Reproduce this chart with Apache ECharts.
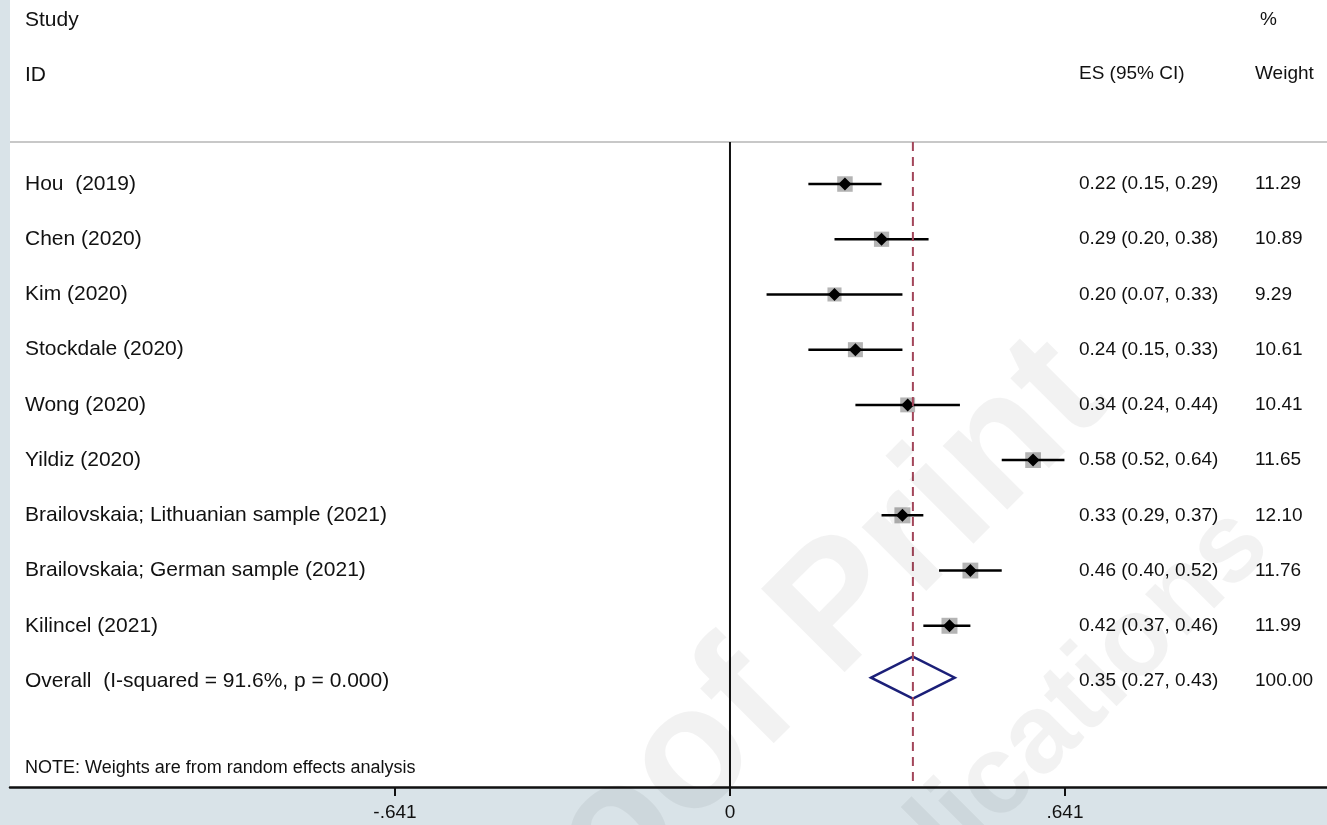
<!DOCTYPE html>
<html>
<head>
<meta charset="utf-8">
<script src="https://cdn.jsdelivr.net/npm/echarts@6/dist/echarts.min.js"></script>
<style>
  html, body { margin: 0; padding: 0; background: #d9e3e8; }
  #forest { width: 1327px; height: 825px; }
</style>
</head>
<body>
<div id="forest"></div>
<script>
// study rows
const studies = ['Hou  (2019)', 'Chen (2020)', 'Kim (2020)', 'Stockdale (2020)', 'Wong (2020)', 'Yildiz (2020)',
  'Brailovskaia; Lithuanian sample (2021)', 'Brailovskaia; German sample (2021)', 'Kilincel (2021)'];
const es = [0.22, 0.29, 0.20, 0.24, 0.34, 0.58, 0.33, 0.46, 0.42];
const ciLow = [0.15, 0.20, 0.07, 0.15, 0.24, 0.52, 0.29, 0.40, 0.37];
const ciHigh = [0.29, 0.38, 0.33, 0.33, 0.44, 0.64, 0.37, 0.52, 0.46];
const weights = [11.29, 10.89, 9.29, 10.61, 10.41, 11.65, 12.10, 11.76, 11.99];
// pooled estimate
const overallLabel = 'Overall  (I-squared = 91.6%, p = 0.000)';
const overallEs = 0.35;
const overallLow = 0.27;
const overallHigh = 0.43;
const overallWeight = 100.00;
// axis ticks
const xTicks = [-0.641, 0, 0.641];

const FONT = "'Liberation Sans', Arial, Helvetica, sans-serif";
const xMin = -1.3777, xMax = 1.1424;
const yMin = -3.333, yMax = 10.92;
const headerRule = -0.76;

const myChart = echarts.init(document.getElementById('forest'));

const fmt = v => v.toFixed(2);
const tickFmt = v => v === 0 ? '0' : (v < 0 ? '-' : '') + Math.abs(v).toFixed(3).replace(/^0/, '');

const nRows = studies.length;
const labelRows = studies.map((s, i) => [i, s, fmt(es[i]) + ' (' + fmt(ciLow[i]) + ', ' + fmt(ciHigh[i]) + ')', weights[i].toFixed(2)]);
labelRows.push([nRows, overallLabel, fmt(overallEs) + ' (' + fmt(overallLow) + ', ' + fmt(overallHigh) + ')', overallWeight.toFixed(2)]);

const txt = (t, x, y, size) => ({
  type: 'text',
  style: { text: t, x: x, y: y, fill: '#111', font: size + 'px ' + FONT, textAlign: 'left', textVerticalAlign: 'middle' }
});

const wmFill = 'rgba(0,0,0,0.05)';

option = {
  backgroundColor: '#d9e3e8',
  animation: false,
  grid: { left: 10, right: 0, top: 0, bottom: 38, show: true, backgroundColor: '#fff', borderWidth: 0 },
  xAxis: {
    type: 'value', min: xMin, max: xMax,
    axisLine: { onZero: false, lineStyle: { color: '#111', width: 2.5 } },
    axisTick: { customValues: xTicks, length: 9, lineStyle: { color: '#111', width: 2 } },
    axisLabel: { customValues: xTicks, formatter: tickFmt, color: '#111', fontSize: 19, fontFamily: FONT, margin: 16 },
    splitLine: { show: false }
  },
  yAxis: {
    type: 'value', inverse: true, min: yMin, max: yMax, show: false
  },
  graphic: [
    txt('Study', 25, 20, 21),
    txt('ID', 25, 75, 21),
    txt('%', 1260, 20, 19),
    txt('ES (95% CI)', 1079, 74, 19),
    txt('Weight', 1255, 74, 19),
    txt('NOTE: Weights are from random effects analysis', 25, 768, 18),
    // faint watermark
    { type: 'text', x: 1080, y: 370, rotation: Math.PI / 4, z: 100, silent: true,
      style: { text: 'Proof Print', x: 0, y: 0, textAlign: 'right', textVerticalAlign: 'middle',
        font: 'bold 172px ' + FONT, fill: wmFill } },
    { type: 'text', x: 1252, y: 527, rotation: Math.PI / 4, z: 100, silent: true,
      style: { text: 'Publications', x: 0, y: 0, textAlign: 'right', textVerticalAlign: 'middle',
        font: 'bold 112px ' + FONT, fill: wmFill } }
  ],
  series: [
    {
      // header rule
      type: 'line', silent: true, symbol: 'none',
      lineStyle: { color: '#c8c8c8', width: 2 },
      data: [[xMin, headerRule], [xMax, headerRule]]
    },
    {
      // null line
      type: 'line', silent: true, symbol: 'none',
      lineStyle: { color: '#111', width: 2 },
      data: [[0, headerRule], [0, yMax]]
    },
    {
      // overall effect line
      type: 'line', silent: true, symbol: 'none',
      lineStyle: { color: '#a3465a', width: 2, type: [9, 6] },
      data: [[overallEs, headerRule], [overallEs, yMax]]
    },
    {
      type: 'custom',
      name: 'studies',
      renderItem: function (params, api) {
        const row = api.value(1);
        const c = api.coord([api.value(0), row]);
        const l = api.coord([api.value(2), row]);
        const h = api.coord([api.value(3), row]);
        const box = 15.5 * Math.sqrt(api.value(4) / 11.29);
        const d = 6.5;
        return {
          type: 'group',
          children: [
            { type: 'rect', shape: { x: c[0] - box / 2, y: c[1] - box / 2, width: box, height: box }, style: { fill: '#b4b4b4' } },
            { type: 'line', shape: { x1: l[0], y1: l[1], x2: h[0], y2: h[1] }, style: { stroke: '#000', lineWidth: 2.5 } },
            { type: 'polygon', shape: { points: [[c[0] - d, c[1]], [c[0], c[1] - d], [c[0] + d, c[1]], [c[0], c[1] + d]] }, style: { fill: '#000' } }
          ]
        };
      },
      encode: { x: 0, y: 1 },
      data: studies.map((s, i) => [es[i], i, ciLow[i], ciHigh[i], weights[i]])
    },
    {
      type: 'custom',
      name: 'overall',
      renderItem: function (params, api) {
        const row = api.value(1) - 0.06;
        const half = 0.38;
        const pts = [
          api.coord([api.value(2), row]),
          api.coord([api.value(0), row - half]),
          api.coord([api.value(3), row]),
          api.coord([api.value(0), row + half])
        ];
        return { type: 'polygon', shape: { points: pts }, style: { fill: 'none', stroke: '#1b1f78', lineWidth: 2.5 } };
      },
      encode: { x: 0, y: 1 },
      data: [[overallEs, nRows, overallLow, overallHigh]]
    },
    {
      type: 'custom',
      name: 'labels',
      silent: true,
      renderItem: function (params, api) {
        const r = labelRows[params.dataIndex];
        const y = api.coord([0, r[0]])[1];
        return {
          type: 'group',
          children: [
            txt(r[1], 25, y, 21),
            txt(r[2], 1079, y, 19),
            txt(r[3], 1255, y, 19)
          ]
        };
      },
      encode: { x: 1, y: 0 },
      data: labelRows.map(r => [r[0], 0])
    }
  ]
};

myChart.setOption(option);
</script>
</body>
</html>
